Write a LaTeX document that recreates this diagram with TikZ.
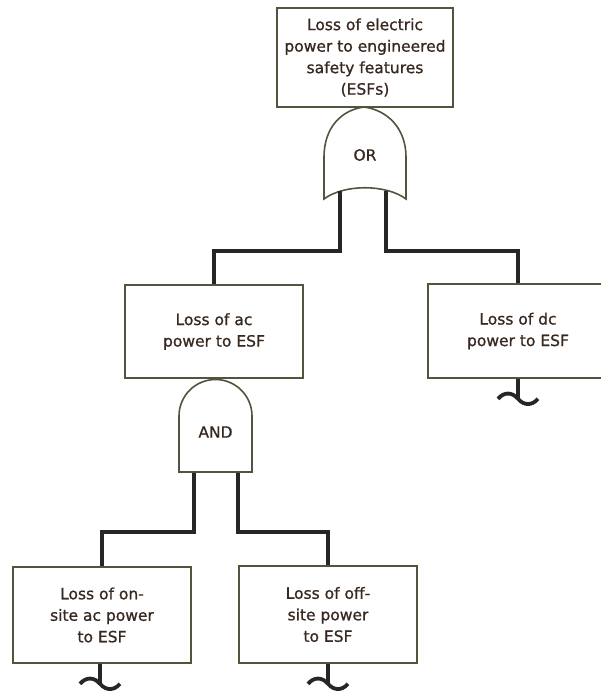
\documentclass[tikz,border=0pt]{standalone}
\usepackage{fontspec}
\setmainfont{DejaVu Sans}[BoldFont={DejaVu Sans}, BoldFeatures={FakeBold=0.9}]
\definecolor{boxline}{RGB}{85,82,62}
\definecolor{ink}{RGB}{55,40,32}
\begin{document}
\begin{tikzpicture}[x=1pt, y=-1pt,
  event/.style={draw=boxline, line width=1.6pt, fill=white, align=center, inner sep=0pt,
    text=ink, font=\fontsize{15.5}{21.5}\selectfont\bfseries},
  gate/.style={draw=boxline, line width=1.6pt, fill=white},
  label/.style={text=ink, font=\fontsize{15.5}{21.5}\selectfont\bfseries},
  wire/.style={line width=3.8pt, draw=black!85},
  transfer/.pic={\draw[wire] (0,0) -- (0,20)
    (-20,20) .. controls (-14,13) and (-6,13) .. (0,20) .. controls (6,27) and (14,27) .. (20,20);}]

\useasboundingbox (0,0) rectangle (601,691);

% events
\node[event, minimum width=176pt, minimum height=99pt] (esf) at (365,57.5)
  {Loss of electric\\power to engineered\\safety features\\(ESFs)};
\node[event, minimum width=178pt, minimum height=93pt] (ac) at (214,331.5)
  {Loss of ac\\power to ESF};
\node[event, minimum width=180pt, minimum height=94pt] (dc) at (518,331)
  {Loss of dc\\power to ESF};
\node[event, minimum width=178pt, minimum height=96pt] (onsite) at (102,615)
  {Loss of on-\\site ac power\\to ESF};
\node[event, minimum width=178pt, minimum height=97pt] (offsite) at (328,614.5)
  {Loss of off-\\site power\\to ESF};

% OR gate
\draw[gate] (324,157) .. controls (324,128) and (341,110) .. (364,107)
  .. controls (387,110) and (406,128) .. (406,157) -- (406,199)
  .. controls (386,184) and (344,184) .. (324,199) -- cycle;
\node[label] (or) at (365,155) {OR};
\coordinate (or-l) at (340,191);
\coordinate (or-r) at (386,191);

% AND gate
\draw[gate] (179,472) -- (179,416) arc[start angle=180, end angle=360, radius=36.5]
  -- (252,472) -- cycle;
\node[label] (and) at (215.5,432) {AND};
\coordinate (and-l) at (194,473);
\coordinate (and-r) at (238,473);

% connections
\draw[wire] (or-l) -- ++(0,60) -| (ac.north);
\draw[wire] (or-r) -- ++(0,60) -| (dc.north);
\draw[wire] (and-l) -- ++(0,59) -| (onsite.north);
\draw[wire] (and-r) -- ++(0,59) -| (offsite.north);

% transfers
\pic at (dc.south) {transfer};
\pic at ([xshift=-2pt]onsite.south) {transfer};
\pic at (offsite.south) {transfer};

\end{tikzpicture}
\end{document}
